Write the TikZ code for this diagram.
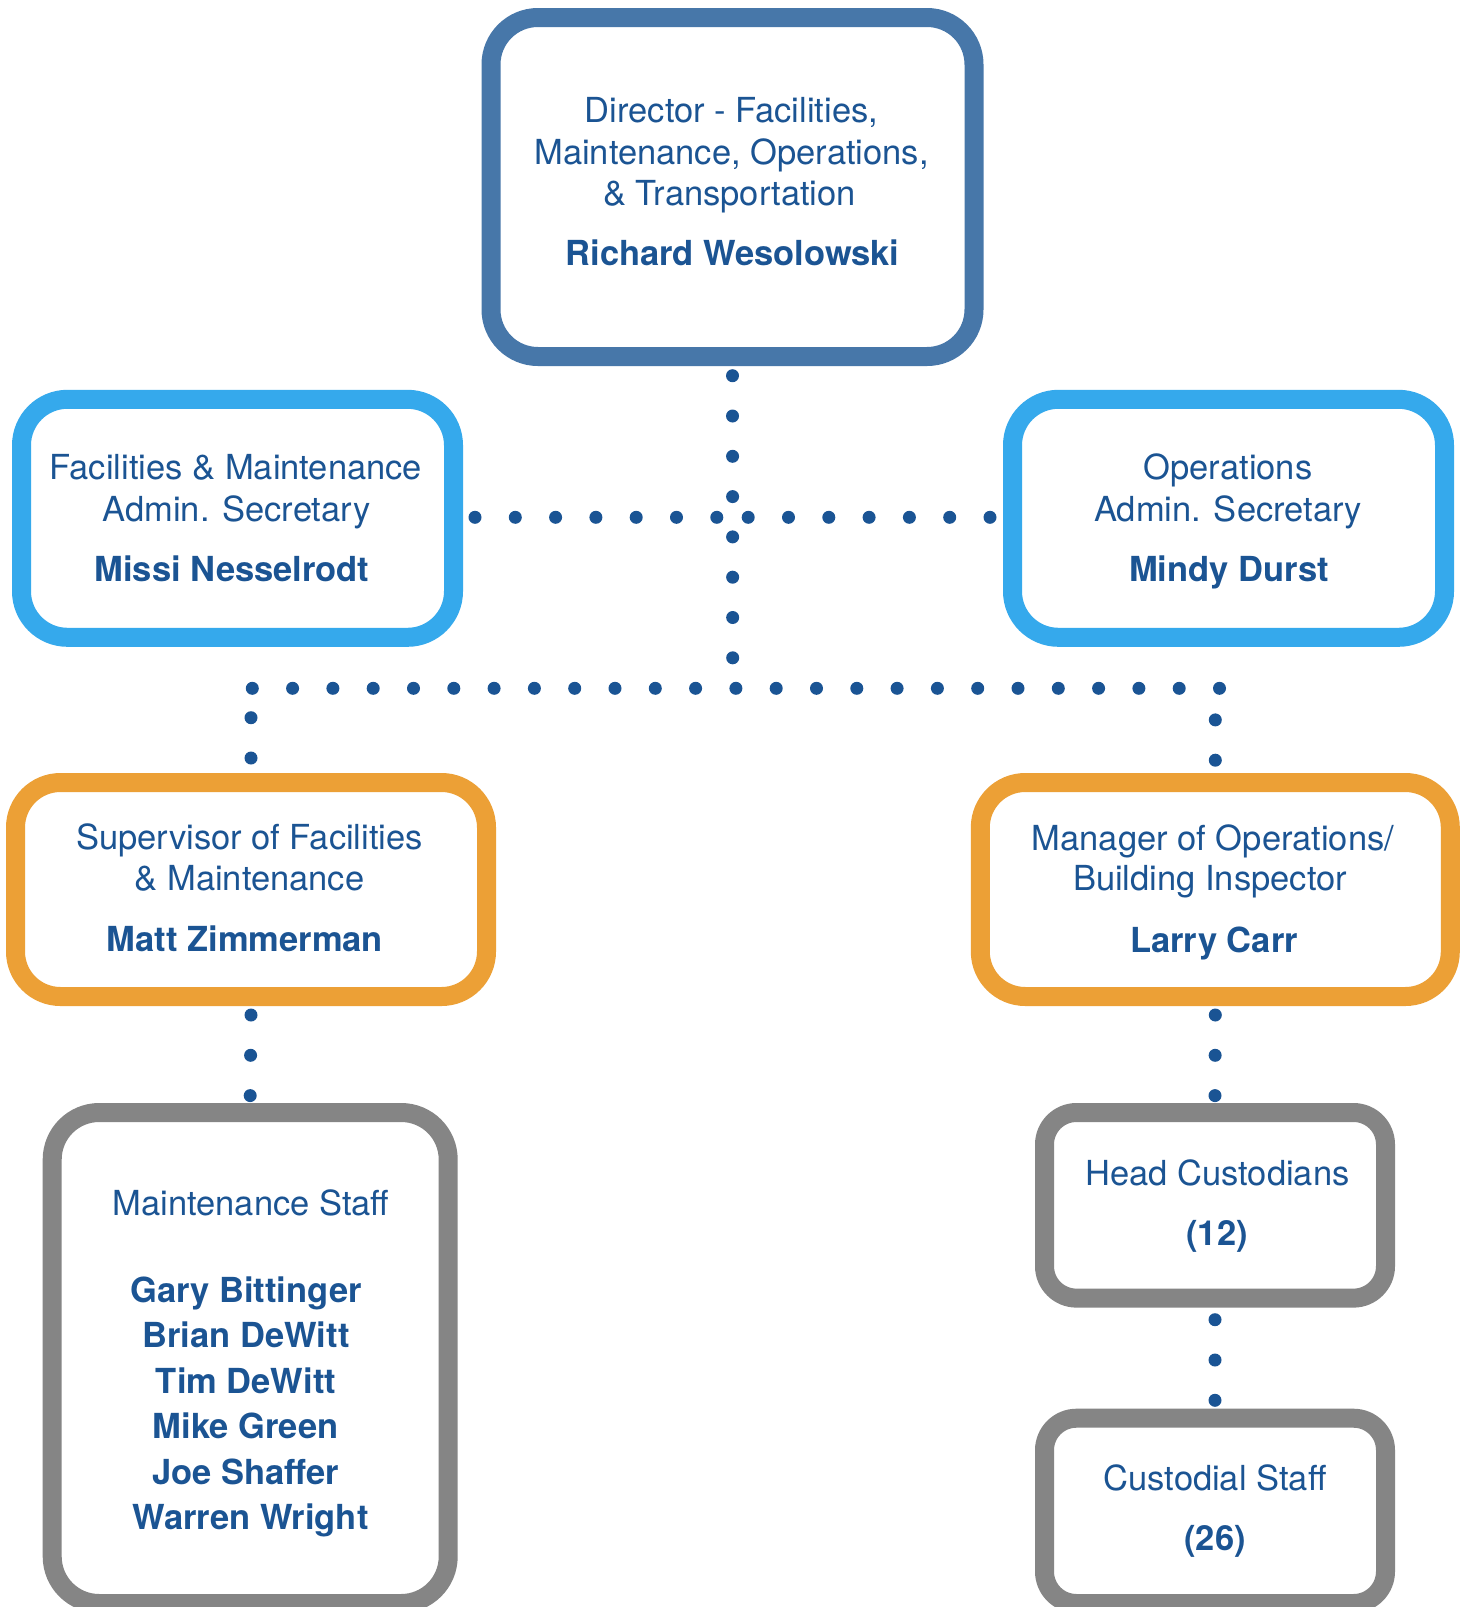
\documentclass[tikz,border=0pt]{standalone}
\usepackage{fontspec}
\setmainfont{TeX Gyre Heros}
\definecolor{tblue}{RGB}{27,84,147}
\definecolor{dotblue}{RGB}{26,84,148}
\definecolor{dirblue}{RGB}{71,119,169}
\definecolor{lblue}{RGB}{53,169,236}
\definecolor{orng}{RGB}{236,160,54}
\definecolor{grayc}{RGB}{133,133,133}
\begin{document}
\begin{tikzpicture}[x=1pt,y=-1pt,
  boxbase/.style={rectangle, line width=19pt, fill=white, inner sep=0pt, outer sep=0pt},
  dirbox/.style={boxbase, draw=dirblue, rounded corners=47pt},
  adminbox/.style={boxbase, draw=lblue, rounded corners=46pt},
  mgrbox/.style={boxbase, draw=orng, rounded corners=45pt},
  biggray/.style={boxbase, draw=grayc, rounded corners=47pt},
  smallgray/.style={boxbase, draw=grayc, rounded corners=32pt},
  ttl/.style={anchor=base, text=tblue, inner sep=0pt, font=\fontsize{34.5}{41.4}\selectfont},
  nm/.style={anchor=base, text=tblue, inner sep=0pt, font=\bfseries\fontsize{34.5}{41.4}\selectfont},
  dots/.style={draw=dotblue, line width=13pt, line cap=round, dash pattern=on 0pt off 40.3pt, shorten >=-3pt}
]
\useasboundingbox[fill=white] (0,0) rectangle (1466,1607);

% boxes
\node[dirbox, minimum width=483pt, minimum height=339pt] (dir) at (732.5,187) {};
\node[adminbox, minimum width=432pt, minimum height=238pt] (fac) at (237.5,518.3) {};
\node[adminbox, minimum width=432pt, minimum height=238pt] (ops) at (1228.5,518.3) {};
\node[mgrbox, minimum width=471pt, minimum height=214pt] (sup) at (251,889.5) {};
\node[mgrbox, minimum width=470pt, minimum height=214pt] (mgr) at (1215.3,889.5) {};
\node[biggray, minimum width=396pt, minimum height=491pt] (maint) at (250.2,1358) {};
\node[smallgray, minimum width=341pt, minimum height=185.6pt] (head) at (1215,1205.3) {};
\node[smallgray, minimum width=341pt, minimum height=185.3pt] (cust) at (1215,1510.85) {};

% texts
\node[ttl] (dirA) at (731.5,122) {Director - Facilities,};
\node[ttl] (dirB) at (731.5,164) {Maintenance, Operations,};
\node[ttl] (dirC) at (729.5,205) {\& Transportation};
\node[nm]  (dirN) at (732.5,265.5) {Richard Wesolowski};

\node[ttl] (facA) at (236,479) {Facilities \& Maintenance};
\node[ttl] (facB) at (236.5,521) {Admin. Secretary};
\node[nm]  (facN) at (232,581) {Missi Nesselrodt};

\node[ttl] (opsA) at (1228,479) {Operations};
\node[ttl] (opsB) at (1228,521) {Admin. Secretary};
\node[nm]  (opsN) at (1229,581) {Mindy Durst};

\node[ttl] (supA) at (249.5,849) {Supervisor of Facilities};
\node[ttl] (supB) at (249.5,890.5) {\& Maintenance};
\node[nm]  (supN) at (245,951) {Matt Zimmerman};

\node[ttl] (mgrA) at (1213,850) {Manager of Operations/};
\node[ttl] (mgrB) at (1210,890.5) {Building Inspector};
\node[nm]  (mgrN) at (1214,952) {Larry Carr};

\node[ttl] (mntA) at (251,1215.5) {Maintenance Staff};
\node[nm]  (mnt1) at (246,1302) {Gary Bittinger};
\node[nm]  (mnt2) at (246,1347.5) {Brian DeWitt};
\node[nm]  (mnt3) at (246,1393) {Tim DeWitt};
\node[nm]  (mnt4) at (245.5,1438.5) {Mike Green};
\node[nm]  (mnt5) at (245.5,1484) {Joe Shaffer};
\node[nm]  (mnt6) at (250.5,1529.5) {Warren Wright};

\node[ttl] (headA) at (1217.5,1185) {Head Custodians};
\node[nm]  (headN) at (1217,1245.5) {(12)};

\node[ttl] (custA) at (1215,1490.5) {Custodial Staff};
\node[nm]  (custN) at (1215,1550.5) {(26)};

% connectors
\coordinate (vEnd) at (732.7,657.7);
\coordinate (hL) at (716,517.3);
\coordinate (hR) at (748.3,517.3);
\coordinate (rA) at (252.3,688.3);
\coordinate (rB) at (1218.3,688.3);

\draw[dots] ([yshift=-19.2pt]dir.south) -- (vEnd);
\draw[dots] ([xshift=21.5pt]fac.east |- hL) -- (hL);
\draw[dots] ([xshift=-22.5pt]ops.west |- hR) -- (hR);
\draw[dots] (rA) -- (rB);
\draw[dots] ([yshift=64.8pt]sup.north) -- ([yshift=24.8pt]sup.north);
\draw[dots] ([yshift=62.6pt]mgr.north) -- ([yshift=22.6pt]mgr.north);
\draw[dots] ([yshift=-18.5pt]sup.south) -- ([yshift=17.5pt]maint.north);
\draw[dots] ([yshift=-18.5pt]mgr.south) -- ([yshift=17.5pt]head.north);
\draw[dots] ([yshift=-21.6pt]head.south) -- ([yshift=18.2pt]cust.north);
\end{tikzpicture}
\end{document}
